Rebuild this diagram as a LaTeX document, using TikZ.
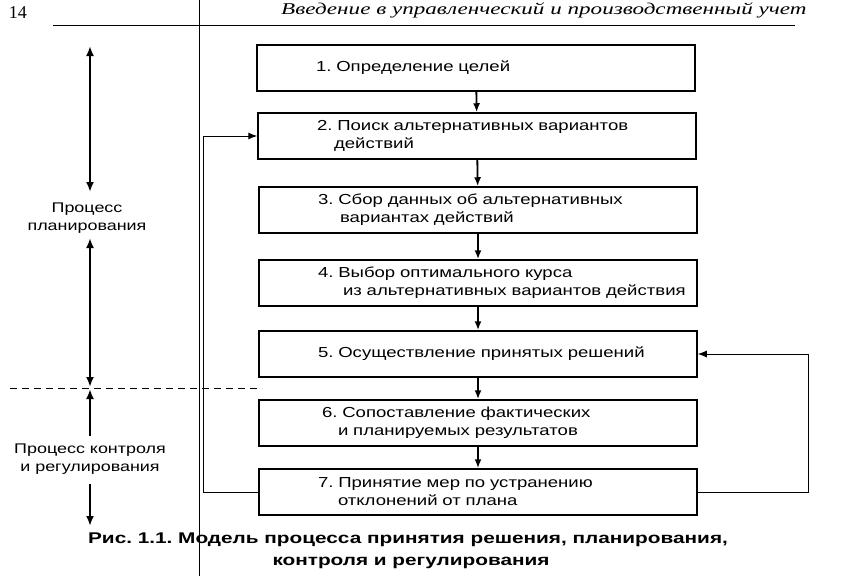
\documentclass[tikz,border=0pt]{standalone}
\usepackage{fontspec}
\setmainfont{Liberation Sans}
\newfontfamily\wide[FakeStretch=1.28]{Liberation Sans}
\newfontfamily\widebold[FakeStretch=1.34]{Liberation Sans Bold}
\newfontfamily\hdrfont[FakeStretch=1.4]{Liberation Serif Italic}
\newfontfamily\pgfont{Liberation Serif}
\usetikzlibrary{arrows.meta}
\frenchspacing
\newcommand\lineind[1]{\hspace*{\dimexpr50pt+#1pt\relax}}
\begin{document}
\begin{tikzpicture}[x=1pt,y=-1pt,
  box/.style={draw,line width=1.5pt,minimum width=438pt,minimum height=46pt,
    text width=420pt,inner xsep=9pt,align=left,font=\wide\fontsize{14.5}{18}\selectfont},
  flow/.style={line width=1.8pt,-{Latex[length=9pt,width=7pt]}},
  fb/.style={line width=1pt,-{Latex[length=9pt,width=7pt]}},
  span/.style={line width=2.4pt,{Latex[length=10pt,width=8pt]}-{Latex[length=10pt,width=8pt]}},
  one/.style={line width=2.4pt,-{Latex[length=10pt,width=8pt]}},
  lbl/.style={align=center,font=\wide\fontsize{14}{18}\selectfont}]
\useasboundingbox (0,0) rectangle (843,576);
% header
\node[font=\pgfont\fontsize{18}{18}\selectfont] (pg) at (18,13) {14};
\node[anchor=east,font=\hdrfont\fontsize{16.5}{18}\selectfont] (hdr) at (810,10) {Введение в управленческий и производственный учет};
\coordinate (hl) at (53,25);
\coordinate (hr) at (795,25);
\draw[line width=1pt] (hl) -- (hr);
% page gutter line
\coordinate (gt) at (199,0);
\coordinate (gb) at (199,576);
\draw[line width=1pt] (gt) -- (gb);
% boxes
\node[box] (b1) at (476,68) {\lineind{0}1. Определение целей};
\node[box] (b2) at (477,136) {\lineind{0}2. Поиск альтернативных вариантов\\\lineind{17}действий};
\node[box] (b3) at (478,210) {\lineind{0}3. Сбор данных об альтернативных\\\lineind{22}вариантах действий};
\node[box] (b4) at (478,283) {\lineind{0}4. Выбор оптимального курса\\\lineind{25}из альтернативных вариантов действия};
\node[box] (b5) at (478,354) {\lineind{0}5. Осуществление принятых решений};
\node[box] (b6) at (478,423) {\lineind{4}6. Сопоставление фактических\\\lineind{20}и планируемых результатов};
\node[box] (b7) at (478,492) {\lineind{0}7. Принятие мер по устранению\\\lineind{20}отклонений от плана};
\draw[flow] (b1) -- (b2);
\draw[flow] (b2) -- (b3);
\draw[flow] (b3) -- (b4);
\draw[flow] (b4) -- (b5);
\draw[flow] (b5) -- (b6);
\draw[flow] (b6) -- (b7);
% feedback loops
\draw[fb] (b7.east) -- (808,492) |- (b5.east);
\draw[fb] (b7.west) -- (203,492) |- (b2.west);
% left labels
\node[lbl] (lp) at (87,218) {Процесс\\планирования};
\node[lbl] (lc) at (90,459) {Процесс контроля\\и регулирования};
\coordinate (a1t) at (90,46);
\coordinate (a1b) at (90,192);
\draw[span] (a1t) -- (a1b);
\coordinate (a2t) at (90,238);
\coordinate (a2b) at (90,387);
\draw[span] (a2t) -- (a2b);
\coordinate (a3t) at (90,389);
\coordinate (a3b) at (90,436);
\draw[one] (a3b) -- (a3t);
\coordinate (a4t) at (90,484);
\coordinate (a4b) at (90,526);
\draw[one] (a4t) -- (a4b);
% dashed divider
\coordinate (dl) at (10,388);
\coordinate (dr) at (262,388);
\draw[line width=1pt,dash pattern=on 7pt off 5pt] (dl) -- (dr);
% caption
\node[align=center,font=\widebold\fontsize{15.5}{22}\selectfont] (cap) at (408,551)
  {Рис. 1.1. Модель процесса принятия решения, планирования,\\\hspace*{6pt}контроля и регулирования};
\end{tikzpicture}
\end{document}
